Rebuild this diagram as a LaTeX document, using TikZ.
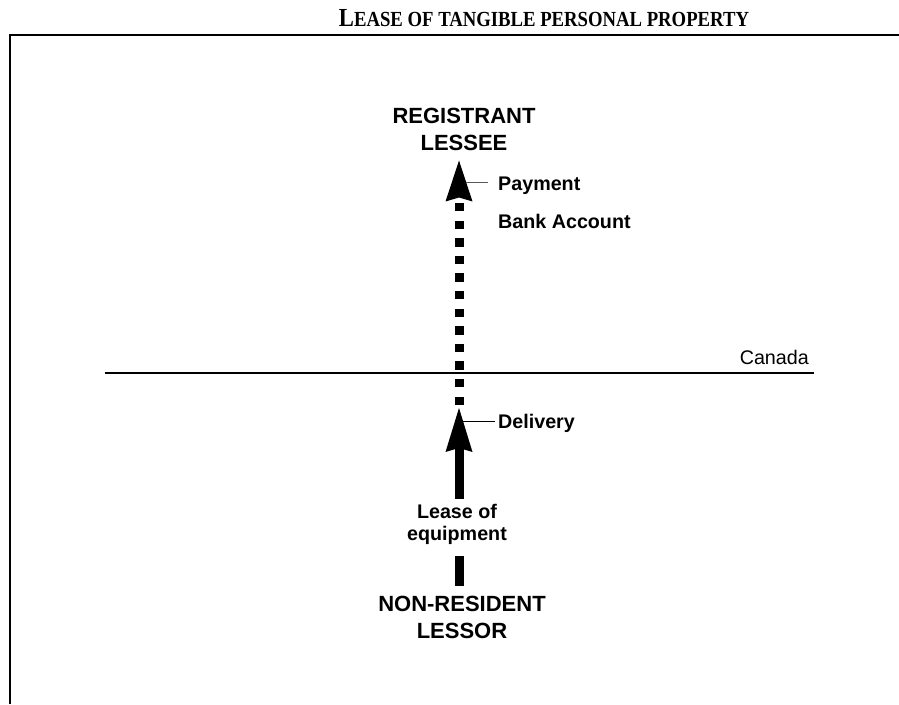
\documentclass[tikz,border=0pt]{standalone}
\usepackage{fontspec}
\setmainfont{Liberation Sans}
\newfontfamily\serifttl[FakeStretch=0.87]{Liberation Serif}
\usetikzlibrary{arrows.meta}
\begin{document}
\begin{tikzpicture}[x=1pt,y=-1pt,
  big/.style={font=\bfseries\fontsize{22}{27}\selectfont, align=center, inner xsep=0pt},
  small/.style={font=\bfseries\fontsize{19.7}{22}\selectfont, inner sep=0pt},
  shaft/.style={line width=9pt},
  leader/.style={line width=1pt},
  headlow/.style={-{Stealth[length=44pt,width=27pt,inset=4pt,line width=0pt]}},
  headup/.style={-{Stealth[length=41pt,width=27pt,inset=4pt,line width=0pt]}}
]
\useasboundingbox (0,0) rectangle (899,704);
% title and frame
\node[anchor=base, font=\serifttl\bfseries, inner sep=0pt] (title) at (544,27)
  {\fontsize{26}{26}\selectfont L\fontsize{21.5}{26}\selectfont EASE OF TANGIBLE PERSONAL PROPERTY};
\draw[line width=2.2pt] (10,704) -- (10,35) -- (899,35);
% border line
\coordinate (wl) at (105,373);
\coordinate (el) at (814,373);
\draw[line width=1.6pt] (wl) -- (el);
\node[font=\fontsize{19.7}{22}\selectfont, inner sep=0pt, anchor=base east] (canada) at (809,364) {Canada};
% parties
\node[big, inner ysep=10pt] (lessee) at (464,129) {REGISTRANT\\LESSEE};
\node[big, inner ysep=10.3pt] (lessor) at (462,617.6) {NON-RESIDENT\\LESSOR};
\node[small, align=center, inner ysep=8.25pt] (lease) at (457,524.5) {Lease of\\equipment};
% labels
\node[small, anchor=base west] (payment) at (498,190) {Payment};
\node[small, anchor=base west] (bank) at (498,228) {Bank Account};
\node[small, anchor=base west] (delivery) at (498,428) {Delivery};
% arrows
\coordinate (dtip) at (459,408);
\draw[shaft, shorten >=3pt] (lessor.north -| dtip) -- (lease.south -| dtip);
\draw[shaft, headlow, shorten <=-3pt] (lease.north -| dtip) -- (dtip);
\draw[shaft, dash pattern=on 8.5pt off 9.1pt, dash phase=14.6pt, headup] (dtip) -- (lessee.south -| dtip);
% leaders
\coordinate (payl) at (466,182);
\coordinate (dell) at (463,421);
\draw[leader, black!65, shorten >=10pt] (payl) -- (payl -| payment.west);
\draw[leader, shorten >=3pt] (dell) -- (dell -| delivery.west);
\end{tikzpicture}
\end{document}
